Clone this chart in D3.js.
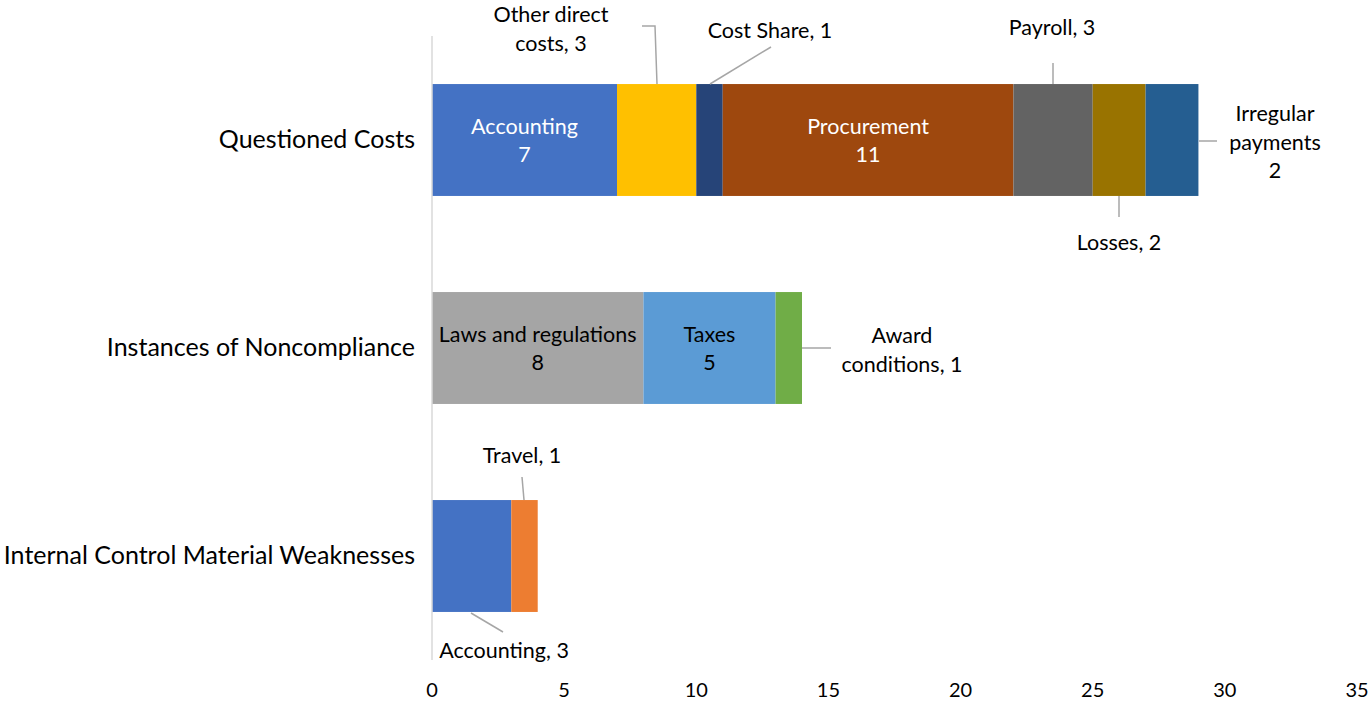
<!DOCTYPE html>
<html><head><meta charset="utf-8">
<script src="https://cdn.jsdelivr.net/npm/d3@7"></script>
<style>body{margin:0;background:#fff}svg{display:block}text{font-family:Lato,"Open Sans",sans-serif}</style>
</head><body><svg id="c" width="1368" height="702"></svg>
<script>
const categories = ["Questioned Costs", "Instances of Noncompliance", "Internal Control Material Weaknesses"];
const segNames = [
  ["Accounting","Other direct costs","Cost Share","Procurement","Payroll","Losses","Irregular payments"],
  ["Laws and regulations","Taxes","Award conditions"],
  ["Accounting","Travel"]
];
const segValues = [
  [7,3,1,11,3,2,2],
  [8,5,1],
  [3,1]
];
const segColors = [
  ["#4472C4","#FFC000","#264478","#9E480E","#636363","#997300","#255E91"],
  ["#A5A5A5","#5B9BD5","#70AD47"],
  ["#4472C4","#ED7D31"]
];
const tickValues = [0,5,10,15,20,25,30,35];

const labelLayout = [
  {c:0,s:0,lines:["Accounting","7"],inside:true,color:"#fff"},
  {c:0,s:3,lines:["Procurement","11"],inside:true,color:"#fff"},
  {c:1,s:0,lines:["Laws and regulations","8"],inside:true,color:"#000"},
  {c:1,s:1,lines:["Taxes","5"],inside:true,color:"#000"},
  {c:0,s:1,lines:["Other direct","costs, 3"],tx:551,ty:14,leader:[[657,84],[655,26],[642,26]]},
  {c:0,s:2,lines:["Cost Share, 1"],tx:770,ty:30,leader:[[710,84],[771,47]]},
  {c:0,s:4,lines:["Payroll, 3"],tx:1052,ty:27,leader:[[1053,84],[1053,63]]},
  {c:0,s:5,lines:["Losses, 2"],tx:1119,ty:242,leader:[[1119,196],[1119,217]]},
  {c:0,s:6,lines:["Irregular","payments","2"],tx:1275,ty:113,leader:[[1199,141],[1217,141]]},
  {c:1,s:2,lines:["Award","conditions, 1"],tx:902,ty:335,leader:[[802,348],[831,348]]},
  {c:2,s:1,lines:["Travel, 1"],tx:522,ty:455,leader:[[524,500],[522,477]]},
  {c:2,s:0,lines:["Accounting, 3"],tx:504,ty:650,leader:[[471,613],[503,632]]}
];

const svg = d3.select("#c");
const m = {left:432, right:1357, top:36, bottom:660};
const x = d3.scaleLinear().domain([0,35]).range([m.left,m.right]);
const y = d3.scaleBand().domain(categories).range([m.top,m.bottom]).paddingInner(0.462).paddingOuter(0.231);

categories.forEach((cat,ci)=>{
  let acc=0;
  const segs = segValues[ci].map((v,si)=>{const o={x0:acc,x1:acc+v,c:segColors[ci][si]};acc+=v;return o;});
  svg.append("g").selectAll("rect").data(segs).join("rect")
    .attr("x",d=>x(d.x0)).attr("width",d=>x(d.x1)-x(d.x0))
    .attr("y",y(cat)).attr("height",y.bandwidth()).attr("fill",d=>d.c);
});

svg.append("line").attr("x1",x(0)).attr("x2",x(0)).attr("y1",m.top).attr("y2",m.bottom)
  .attr("stroke","#d9d9d9").attr("stroke-width",1.5);

svg.append("g").selectAll("text").data(tickValues).join("text")
  .attr("x",d=>x(d)).attr("y",697).attr("text-anchor","middle")
  .attr("font-size",20).attr("fill","#000").text(d=>d);

svg.append("g").selectAll("text").data(categories).join("text")
  .attr("x",415).attr("y",d=>y(d)+y.bandwidth()/2+8).attr("text-anchor","end")
  .attr("font-size",25).attr("fill","#000").text(d=>d);

const lh = 28.5, fs = 21.5;
labelLayout.forEach(L=>{
  const cat = categories[L.c];
  let acc = d3.sum(segValues[L.c].slice(0,L.s));
  const v = segValues[L.c][L.s];
  if(L.inside){
    const cx = x(acc+v/2), cy = y(cat)+y.bandwidth()/2;
    const t = svg.append("text").attr("text-anchor","middle").attr("font-size",fs).attr("fill",L.color);
    L.lines.forEach((ln,i)=>t.append("tspan").attr("x",cx).attr("y",cy-lh/2+8+i*lh).text(ln));
  } else {
    svg.append("polyline").attr("points",L.leader.map(p=>p.join(",")).join(" "))
      .attr("fill","none").attr("stroke","#a6a6a6").attr("stroke-width",1.5);
    const t = svg.append("text").attr("text-anchor","middle").attr("font-size",fs).attr("fill","#000");
    L.lines.forEach((ln,i)=>t.append("tspan").attr("x",L.tx).attr("y",L.ty+8+i*lh).text(ln));
  }
});
</script></body></html>
